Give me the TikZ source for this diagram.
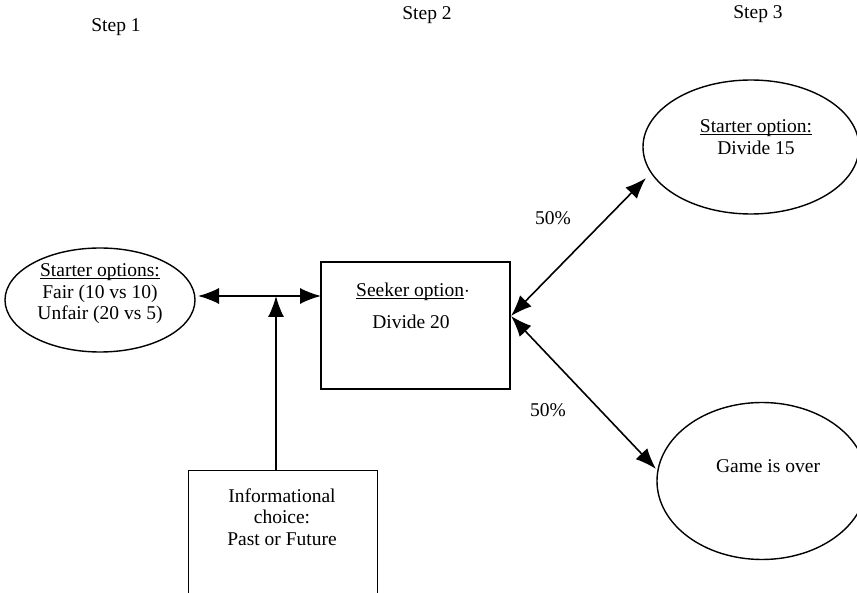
\documentclass[tikz,border=0pt]{standalone}
\usepackage{fontspec}
\setmainfont{Liberation Serif}
\usetikzlibrary{shapes.geometric,arrows.meta}
\newcommand\ulx[1]{\underline{\raisebox{0pt}[\height][0pt]{#1}}}
\begin{document}
\begin{tikzpicture}[x=1pt,y=-1pt,
  shape line/.style={draw=black,line width=1.4pt},
  oval/.style={shape line,ellipse,inner sep=0pt},
  txt/.style={font=\fontsize{19.5}{21.5}\selectfont,align=center,inner sep=0pt},
  conn/.style={line width=1.6pt,{Latex[length=21pt,width=16pt]}-{Latex[length=21pt,width=16pt]}},
  oneway/.style={line width=1.6pt,-{Latex[length=21pt,width=16pt]}}]
\useasboundingbox (0,0) rectangle (857,593);
% step labels
\node[txt] (s1) at (116,27) {Step 1};
\node[txt] (s2) at (427,15) {Step 2};
\node[txt] (s3) at (758,14) {Step 3};
% left ellipse
\node[oval,minimum width=190pt,minimum height=104pt] (start) at (100,300) {};
\node[txt] (starttxt) at (100,294) {\ulx{Starter options:}\\Fair (10 vs 10)\\Unfair (20 vs 5)};
% seeker box
\node[shape line,minimum width=189pt,minimum height=127pt,inner sep=0pt] (seek) at (415.5,325.5) {};
\node[txt] (seek1) at (413,291) {\ulx{Seeker option}$\cdot$};
\node[txt] (seek2) at (411,322) {Divide 20};
% top right ellipse
\node[oval,minimum width=216pt,minimum height=134pt] (top) at (751,147) {};
\node[txt] (toptxt) at (756,137) {\ulx{Starter option:}\\Divide 15};
% bottom right ellipse
\node[oval,minimum width=210pt,minimum height=157pt] (bot) at (762,481) {};
\node[txt] (bottxt) at (768,466) {Game is over};
% info box
\node[shape line,minimum width=189pt,minimum height=140pt,inner sep=0pt,anchor=north west] (info) at (188,470) {};
\node[txt] (infotxt) at (282,517) {Informational\\choice:\\Past or Future};
% connectors
\coordinate (hl) at (198,296);
\coordinate (hr) at (321,296);
\coordinate (hm) at (276,296);
\coordinate (src) at (511,316);
\coordinate (ttip) at (646,178);
\coordinate (btip) at (656,469);
\coordinate (vb) at (276,470);
\draw[conn] (hl) -- (hr);
\draw[oneway] (vb) -- (hm);
\draw[conn] (src) -- (ttip);
\draw[conn] (src) -- (btip);
\node[txt] (p1) at (553,218) {50\%};
\node[txt] (p2) at (548,410) {50\%};
\end{tikzpicture}
\end{document}
